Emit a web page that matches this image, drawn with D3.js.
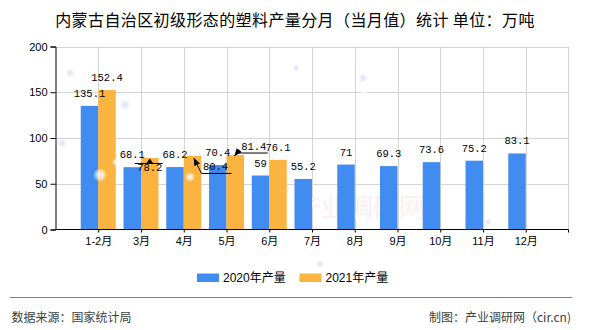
<!DOCTYPE html>
<html><head><meta charset="utf-8">
<script src="https://cdn.jsdelivr.net/npm/d3@7"></script>
<style>
html,body{margin:0;padding:0;background:#fff;}
svg{display:block;}
</style></head>
<body>
<script>
const categories = ["1-2月","3月","4月","5月","6月","7月","8月","9月","10月","11月","12月"];
const values2020 = [135.1, 68.1, 68.2, 70.4, 59, 55.2, 71, 69.3, 73.6, 75.2, 83.1];
const values2021 = [152.4, 78.2, 80.4, 81.4, 76.1, null, null, null, null, null, null];
const seriesNames = ["2020年产量", "2021年产量"];
const yTicks = [0, 50, 100, 150, 200];
const titleText = "内蒙古自治区初级形态的塑料产量分月（当月值）统计  单位：万吨";
const sourceText = "数据来源：国家统计局";
const creditText = "制图：产业调研网（cir.cn)";

(function(){
const W = 590, H = 330;
const colors = ["#418cf0", "#fcb441"];
const svg = d3.select("body").append("svg").attr("width", W).attr("height", H);

const pL = 55.5, pR = 568.5, pT = 46.5, pB = 229.5;
const x = d3.scalePoint().domain(categories).range([pL, pR]).padding(1);
const y = d3.scaleLinear().domain([0, 200]).range([pB, pT]);
const bw = 17.5;

const defs = svg.append("defs");
const g1 = defs.append("radialGradient").attr("id","blobL");
g1.append("stop").attr("offset","0%").attr("stop-color","#cfd1f0").attr("stop-opacity",0.7);
g1.append("stop").attr("offset","100%").attr("stop-color","#cfd1f0").attr("stop-opacity",0);
const g2 = defs.append("radialGradient").attr("id","blobW");
g2.append("stop").attr("offset","0%").attr("stop-color","#ffffff").attr("stop-opacity",0.95);
g2.append("stop").attr("offset","55%").attr("stop-color","#ffffff").attr("stop-opacity",0.6);
g2.append("stop").attr("offset","100%").attr("stop-color","#ffffff").attr("stop-opacity",0);
defs.append("marker").attr("id","arr").attr("viewBox","0 0 10 10").attr("refX",9).attr("refY",5)
  .attr("markerWidth",8).attr("markerHeight",8).attr("orient","auto").attr("markerUnits","userSpaceOnUse")
  .append("path").attr("d","M0,1 L10,5 L0,9 Z").attr("fill","#000");

svg.append("text").attr("x", 295).attr("y", 18.5).attr("text-anchor","middle")
  .attr("dominant-baseline","central")
  .style("font-family","'Noto Sans CJK SC', sans-serif").style("font-size","16px")
  .style("letter-spacing","0.4px").attr("fill","#000").text(titleText);

const grid = svg.append("g");
grid.selectAll("line.h").data(yTicks.filter(d=>d>0)).join("line")
  .attr("x1", pL).attr("x2", pR).attr("y1", d=>Math.round(y(d))+0.5).attr("y2", d=>Math.round(y(d))+0.5)
  .attr("stroke","#d4d4d4");
grid.selectAll("line.v").data(categories).join("line")
  .attr("x1", d=>Math.round(x(d))+0.5).attr("x2", d=>Math.round(x(d))+0.5)
  .attr("y1", pT).attr("y2", pB).attr("stroke","#d4d4d4");
grid.append("line").attr("x1", pR).attr("x2", pR).attr("y1", pT).attr("y2", pB).attr("stroke","#d4d4d4");

svg.append("text").attr("x", 295).attr("y", 217)
  .style("font-family","'Noto Sans CJK SC', sans-serif").style("font-size","26px")
  .attr("fill","#fdeef0").text("产业调研网");

const blobsL = [[70,73,5],[62,143,5],[125,105,6],[296,68,4],[363,78,5],[488,222,4],[320,264,4]];
svg.selectAll("circle.bl").data(blobsL).join("circle")
  .attr("cx", d=>d[0]).attr("cy", d=>d[1]).attr("r", d=>d[2]).attr("fill","url(#blobL)");

const barsG = svg.append("g");
barsG.selectAll("rect.s0").data(categories).join("rect")
  .attr("x", d=>x(d)-bw).attr("width", bw)
  .attr("y", (d,i)=>y(values2020[i])).attr("height", (d,i)=>y(0)-y(values2020[i]))
  .attr("fill", colors[0]);
const cats21 = categories.filter((d,i)=>values2021[i]!=null);
barsG.selectAll("rect.s1").data(cats21).join("rect")
  .attr("x", d=>x(d)).attr("width", bw)
  .attr("y", (d,i)=>y(values2021[i])).attr("height", (d,i)=>y(0)-y(values2021[i]))
  .attr("fill", colors[1]);

const blobsW = [[100,175,7],[116,162,4],[190,177,5],[364,92,4]];
svg.selectAll("circle.bw").data(blobsW).join("circle")
  .attr("cx", d=>d[0]).attr("cy", d=>d[1]).attr("r", d=>d[2]).attr("fill","url(#blobW)");

const yAxis = d3.axisLeft(y).tickValues(yTicks).tickSize(5).tickPadding(3);
const ya = svg.append("g").attr("transform", `translate(${pL},0)`).call(yAxis);
ya.select(".domain").attr("stroke","#000");
ya.selectAll(".tick line").attr("stroke","#000");
ya.selectAll("text").style("font-family","'Liberation Sans', Arial, sans-serif").style("font-size","11px").attr("fill","#000");

const xAxis = d3.axisBottom(x).tickSize(3).tickPadding(5).tickSizeOuter(0);
const xa = svg.append("g").attr("transform", `translate(0,${pB})`).call(xAxis);
xa.select(".domain").attr("stroke","#000").attr("d", `M${pL},0H${pR}`);
xa.selectAll(".tick line").attr("stroke","#000");
xa.append("line").attr("x1", pR).attr("x2", pR).attr("y1", 0).attr("y2", 3).attr("stroke","#000");
xa.selectAll("text").style("font-family","'Liberation Sans', 'Noto Sans CJK SC', sans-serif").style("font-size","11px").attr("fill","#000");

const lblFont = "'Liberation Mono', 'DejaVu Sans Mono', monospace";
const labelsG = svg.append("g").style("font-family", lblFont).style("font-size","10.5px").attr("fill","#000");
function lbl(cx, by, t){ labelsG.append("text").attr("x", cx).attr("y", by).attr("text-anchor","middle").text(t); }
const moved = {"1-1":true, "1-2":true, "1-3":true};
values2020.forEach((v,i)=>{ lbl(x(categories[i]) - bw/2, y(v) - 9, String(v)); });
values2021.forEach((v,i)=>{ if(v==null || moved["1-"+i]) return; lbl(x(categories[i]) + bw/2, y(v) - 9, String(v)); });

const lead = svg.append("g").attr("stroke","#000").attr("fill","none");
{
  const cx = x(categories[1]) + bw/2, ty = y(values2021[1]);
  lbl(cx, ty + 13.5, String(values2021[1]));
  lead.append("line").attr("x1", cx-15).attr("x2", cx+13).attr("y1", ty+5.5).attr("y2", ty+5.5);
  svg.append("path").attr("d", `M${cx},${ty+0.5} L${cx-3.5},${ty+5.5} L${cx+3.5},${ty+5.5} Z`).attr("fill","#000");
}
{
  const cx = x(categories[2]) + bw/2, ty = y(values2021[2]);
  const lx = cx + 23, ly = ty + 14.5;
  lbl(lx, ly, String(values2021[2]));
  lead.append("polyline").attr("points", `${lx+16},${ty+17.5} ${lx-14},${ty+17.5} ${cx+1.5},${ty+2.5}`)
    .attr("marker-end","url(#arr)");
}
{
  const cx = x(categories[3]) + bw/2, ty = y(values2021[3]);
  const lx = cx + 18.5, ly = ty - 5.5;
  lbl(lx, ly, String(values2021[3]));
  lead.append("polyline").attr("points", `${lx+14},${ty-2} ${lx-17},${ty-2} ${cx-0.5},${ty+0.5}`)
    .attr("marker-end","url(#arr)");
}

const legend = svg.append("g");
const legX = [197, 299.5];
seriesNames.forEach((n,i)=>{
  legend.append("rect").attr("x", legX[i]).attr("y", 273.5).attr("width", 22).attr("height", 8.5).attr("fill", colors[i]);
  legend.append("text").attr("x", legX[i]+26).attr("y", 278).attr("dominant-baseline","central")
    .style("font-family","'Liberation Sans', 'Noto Sans CJK SC', sans-serif").style("font-size","12px")
    .attr("fill","#000").text(n);
});

svg.append("line").attr("x1", 10).attr("x2", 572).attr("y1", 297.5).attr("y2", 297.5).attr("stroke","#808080").attr("stroke-width",1.2);
svg.append("text").attr("x", 11.5).attr("y", 316).attr("dominant-baseline","central")
  .style("font-family","'Noto Sans CJK SC', sans-serif").style("font-size","12px").attr("fill","#404040").text(sourceText);
svg.append("text").attr("x", 571).attr("y", 316).attr("dominant-baseline","central").attr("text-anchor","end")
  .style("font-family","'Noto Sans CJK SC', sans-serif").style("font-size","12px").attr("fill","#404040").text(creditText);
})();
</script>
</body></html>
